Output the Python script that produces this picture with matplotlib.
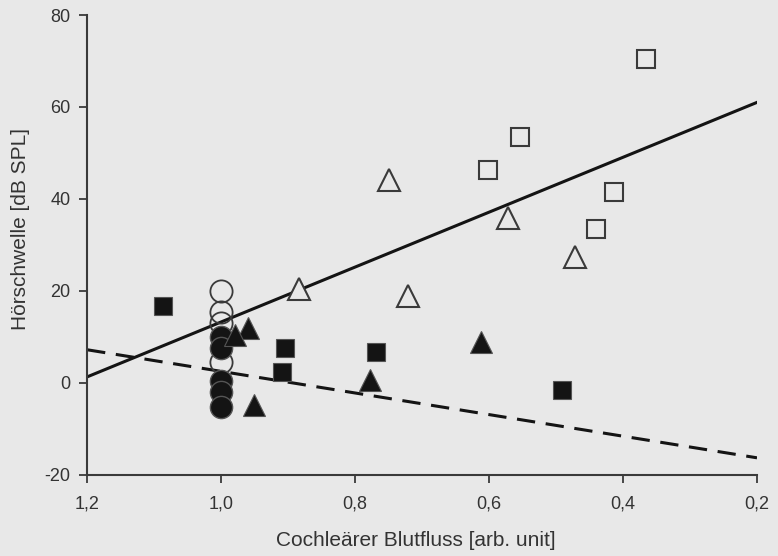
import numpy as np
import matplotlib
matplotlib.use("Agg")
import matplotlib.pyplot as plt

# Daten
kreis_offen_x = [1.0, 1.0, 1.0, 1.0]
kreis_offen_y = [20, 15.5, 13, 4.6]
kreis_voll_x = [1.0, 1.0, 1.0, 1.0, 1.0]
kreis_voll_y = [10, 7.6, 0.3, -1.9, -5.2]

dreieck_offen_x = [0.884, 0.749, 0.721, 0.572, 0.472]
dreieck_offen_y = [20.4, 44.1, 18.9, 35.9, 27.4]
dreieck_voll_x = [0.96, 0.979, 0.951, 0.778, 0.612]
dreieck_voll_y = [12, 10.4, -4.8, 0.7, 8.9]

quadrat_offen_x = [0.601, 0.554, 0.366, 0.413, 0.440]
quadrat_offen_y = [46.3, 53.5, 70.4, 41.5, 33.5]
quadrat_voll_x = [1.087, 0.904, 0.909, 0.769, 0.491]
quadrat_voll_y = [16.7, 7.6, 2.4, 6.7, -1.5]

# Regressionsgeraden (Endpunkte bei x=1,2 und x=0,2)
linie_x = [1.2, 0.2]
linie_solid_y = [1.3, 61.0]
linie_dash_y = [7.2, -16.3]

xticks = [1.2, 1.0, 0.8, 0.6, 0.4, 0.2]
xlabels = ["1,2", "1,0", "0,8", "0,6", "0,4", "0,2"]
yticks = [-20, 0, 20, 40, 60, 80]

bg = "#e8e8e8"
dunkel = "#141414"
rand = "#3a3a3a"

plt.rcParams['font.family'] = ['Liberation Sans', 'DejaVu Sans']
plt.rcParams['axes.unicode_minus'] = False

fig = plt.figure(figsize=(7.78, 5.56), dpi=100, facecolor=bg)
ax = fig.add_axes([0.112, 0.146, 0.861, 0.827])
ax.set_facecolor(bg)

# Linien
ax.plot(linie_x, linie_solid_y, color=dunkel, lw=2.2, zorder=2)
ax.plot(linie_x, linie_dash_y, color=dunkel, lw=2.2, ls=(0, (6, 3.5)), zorder=2)

# Punkte
ax.plot(kreis_offen_x, kreis_offen_y, 'o', ms=16, mfc='none', mec=rand, mew=1.3, zorder=3)
ax.plot(kreis_voll_x, kreis_voll_y, 'o', ms=16, mfc=dunkel, mec="#555555", mew=1.0, zorder=4)
ax.plot(dreieck_offen_x, dreieck_offen_y, '^', ms=16, mfc=bg, mec=rand, mew=1.5, zorder=3)
ax.plot(dreieck_voll_x, dreieck_voll_y, '^', ms=16, mfc=dunkel, mec="#555555", mew=0.8, zorder=4)
ax.plot(quadrat_offen_x, quadrat_offen_y, 's', ms=13, mfc=bg, mec=rand, mew=1.5, zorder=3)
ax.plot(quadrat_voll_x, quadrat_voll_y, 's', ms=13, mfc=dunkel, mec="#555555", mew=0.8, zorder=4)

ax.set_xlim(1.2, 0.2)
ax.set_ylim(-20, 80)
ax.set_xticks(xticks)
ax.set_xticklabels(xlabels)
ax.set_yticks(yticks)

for s in ['top', 'right']:
    ax.spines[s].set_visible(False)
for s in ['left', 'bottom']:
    ax.spines[s].set_color(rand)
    ax.spines[s].set_linewidth(1.5)

ax.tick_params(direction='out', length=6, width=1.3, color=rand,
               labelsize=13, labelcolor="#333333")
ax.tick_params(axis='x', pad=9)
ax.tick_params(axis='y', pad=6)

ax.set_xlabel("Cochleärer Blutfluss [arb. unit]", fontsize=15, color="#333333")
ax.set_ylabel("Hörschwelle [dB SPL]", fontsize=15, color="#333333")
ax.xaxis.set_label_coords(0.49, -0.122)
ax.yaxis.set_label_coords(-0.085, 0.535)

fig.savefig("out.png", dpi=100, facecolor=bg)
